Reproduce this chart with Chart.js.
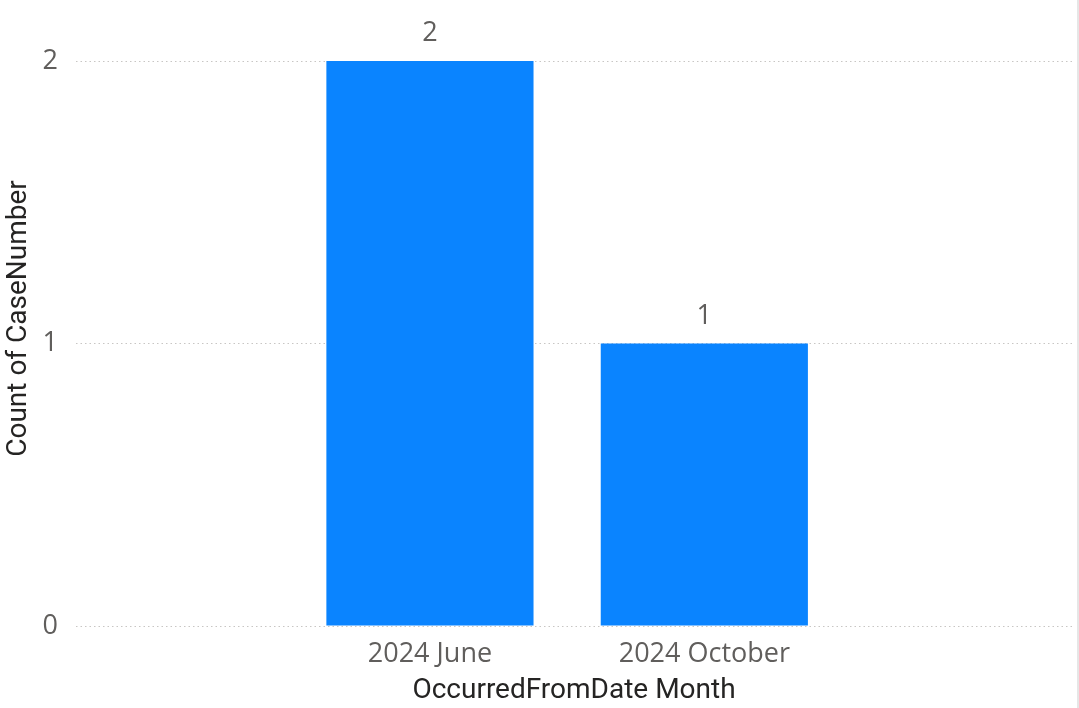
<!DOCTYPE html>
<html>
<head>
<meta charset="utf-8">
<script src="https://cdn.jsdelivr.net/npm/chart.js@4"></script>
<style>
  html, body { margin: 0; padding: 0; background: #fff; }
  #wrap { position: relative; width: 1079px; height: 708px; box-sizing: border-box; border-right: 2px solid #e6e6e6; }
</style>
</head>
<body>
<div id="wrap"><canvas id="chart"></canvas></div>
<script>
// ---------------- Data ----------------
const MONTHS = ['2024 June', '2024 October'];
const CASE_COUNTS = [2, 1];
const Y_TICKS = [0, 1, 2];

const BAR_COLOR = '#0a84ff';
const TICK_COLOR = '#605e5c';
const TITLE_COLOR = '#252423';
const Y_TITLE = 'Count of CaseNumber';

// value labels above each bar + y axis title (drawn a bit above plot centre, like Power BI)
const decorations = {
  id: 'decorations',
  afterDatasetsDraw(chart) {
    const ctx = chart.ctx;
    const meta = chart.getDatasetMeta(0);
    ctx.save();
    ctx.fillStyle = TICK_COLOR;
    ctx.font = '27px "Open Sans"';
    ctx.textAlign = 'center';
    ctx.textBaseline = 'bottom';
    meta.data.forEach((bar, i) => {
      ctx.fillText(String(CASE_COUNTS[i]), bar.x, bar.y - 14);
    });

    const area = chart.chartArea;
    ctx.translate(19, (area.top + area.bottom) / 2 - 25);
    ctx.rotate(-Math.PI / 2);
    ctx.fillStyle = TITLE_COLOR;
    ctx.font = '28px Roboto';
    ctx.textBaseline = 'middle';
    ctx.fillText(Y_TITLE, 0, 0);
    ctx.restore();
  }
};

new Chart(document.getElementById('chart'), {
  type: 'bar',
  data: {
    datasets: [{
      data: MONTHS.map((m, i) => ({ x: i, y: CASE_COUNTS[i] })),
      backgroundColor: BAR_COLOR,
      borderWidth: 0,
      categoryPercentage: 1,
      barPercentage: 0.755,
    }],
  },
  options: {
    responsive: true,
    maintainAspectRatio: false,
    animation: false,
    layout: { padding: { top: 61, right: 5, left: 0, bottom: 0 } },
    plugins: { legend: { display: false }, tooltip: { enabled: false } },
    scales: {
      x: {
        type: 'linear',
        offset: false,
        bounds: 'data',
        min: -1.29,
        max: 2.34,
        afterBuildTicks: (scale) => { scale.ticks = MONTHS.map((_, i) => ({ value: i })); },
        ticks: {
          callback: (v) => MONTHS[v] ?? '',
          color: TICK_COLOR,
          font: { family: '"Open Sans"', size: 27 },
          padding: 4,
          maxRotation: 0,
        },
        grid: { display: false },
        border: { display: false },
        title: {
          display: true,
          text: 'OccurredFromDate Month',
          color: TITLE_COLOR,
          font: { family: 'Roboto', size: 28 },
          padding: { top: 0, bottom: 0 },
        },
      },
      y: {
        min: 0,
        max: 2,
        afterBuildTicks: (scale) => { scale.ticks = Y_TICKS.map(v => ({ value: v })); },
        afterFit: (scale) => { scale.width = 76; },
        ticks: {
          color: TICK_COLOR,
          font: { family: '"Open Sans"', size: 27 },
          padding: 18,
        },
        grid: {
          color: '#c8c6c4',
          lineWidth: 1,
          drawTicks: false,
        },
        border: { display: false, dash: [1.5, 3] },
      },
    },
  },
  plugins: [decorations],
});
</script>
</body>
</html>
